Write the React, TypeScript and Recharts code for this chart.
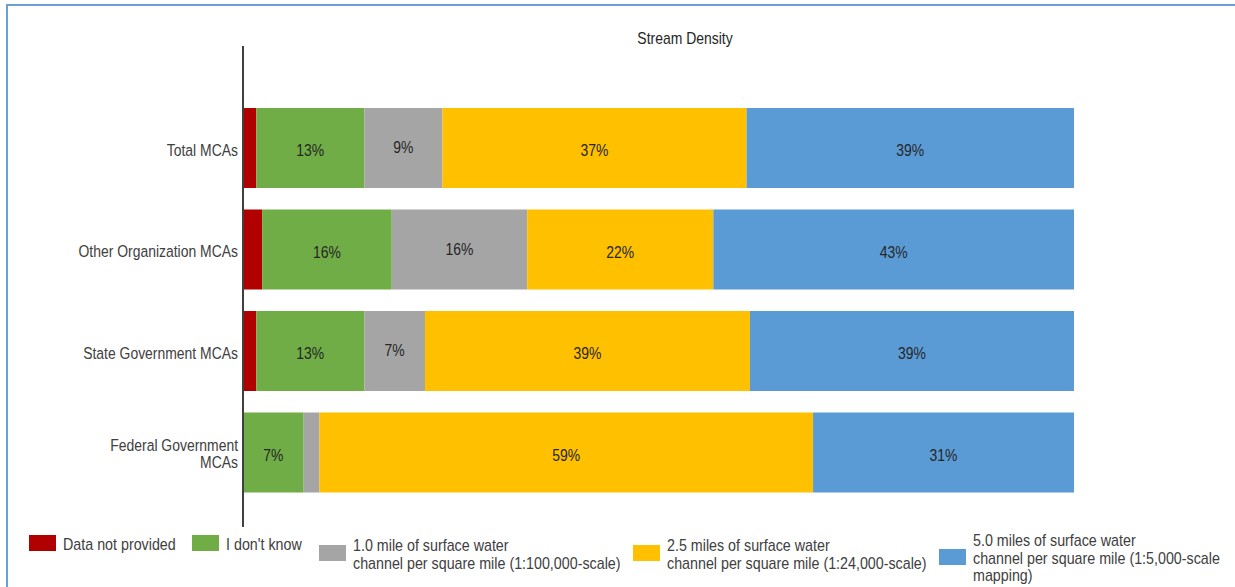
import React from "react"
import { Bar, BarChart, LabelList, XAxis, YAxis } from "recharts"

// values in percent
const categories = [
  "Total MCAs",
  "Other Organization MCAs",
  "State Government MCAs",
  "Federal Government MCAs",
]
const tickLines = [
  ["Total MCAs"],
  ["Other Organization MCAs"],
  ["State Government MCAs"],
  ["Federal Government", "MCAs"],
]
const notProvided = [1.6, 2.3, 1.6, 0]
const dontKnow = [13.0, 15.6, 13.0, 7.3]
const oneMile = [9.4, 16.3, 7.3, 1.9]
const twoHalfMiles = [36.6, 22.4, 39.1, 59.4]
const fiveMiles = [39.4, 43.4, 39.0, 31.4]

const seriesKeys = ["notProvided", "dontKnow", "oneMile", "twoHalfMiles", "fiveMiles"]
const seriesValues = [notProvided, dontKnow, oneMile, twoHalfMiles, fiveMiles]
const seriesNames = [
  ["Data not provided"],
  ["I don't know"],
  ["1.0 mile of surface water", "channel per square mile (1:100,000-scale)"],
  ["2.5 miles of surface water", "channel per square mile (1:24,000-scale)"],
  ["5.0 miles of surface water", "channel per square mile (1:5,000-scale", "mapping)"],
]
const seriesColors = ["#B00000", "#70AD47", "#A5A5A5", "#FFC000", "#5B9BD5"]

const data = categories.map((name, i) => {
  const row: Record<string, string | number> = { name }
  seriesKeys.forEach((key, s) => {
    row[key] = seriesValues[s][i]
  })
  return row
})

// no narrow font installed, so Arial-metric text is squeezed sideways
const FONT = "'Liberation Sans', Arial, sans-serif"
const SQUEEZE = 0.82
const TEXT = "#404040"

const CategoryTick = ({ x, y, payload, index }) => {
  const lines = tickLines[index] || [payload.value]
  const first = lines.length === 1 ? 8 : -1.5
  return (
    <text
      transform={`translate(${x},${y}) scale(${SQUEEZE},1)`}
      textAnchor="end"
      fill={TEXT}
      fontSize={17}
      fontFamily={FONT}
    >
      {lines.map((line, i) => (
        <tspan key={i} x={0} dy={i === 0 ? first : 17.5}>
          {line}
        </tspan>
      ))}
    </text>
  )
}

const makeLabel = (lift: number) => ({ x, y, width, height, value }) => {
  if (value < 5) return null
  return (
    <text
      transform={`translate(${x + width / 2},${y + height / 2 + 8 - lift}) scale(${SQUEEZE},1)`}
      textAnchor="middle"
      fill="#262626"
      fontSize={17}
      fontFamily={FONT}
    >
      {Math.round(value)}%
    </text>
  )
}

// legend boxes, placed like the original legend
const legendPos = [
  { left: 29, boxTop: 535, textTop: 536 },
  { left: 192, boxTop: 535, textTop: 536 },
  { left: 319, boxTop: 545, textTop: 537 },
  { left: 633, boxTop: 545, textTop: 537 },
  { left: 939, boxTop: 549, textTop: 532 },
]

export default function App() {
  return (
    <div
      style={{
        position: "absolute",
        left: 0,
        top: 0,
        width: 1235,
        height: 587,
        overflow: "hidden",
        background: "#fff",
        fontFamily: FONT,
      }}
    >
      <div
        style={{
          position: "absolute",
          left: 6,
          top: 4,
          width: 1300,
          height: 700,
          borderLeft: "2px solid #6A9FD8",
          borderTop: "2px solid #6A9FD8",
        }}
      />
      <div
        style={{
          position: "absolute",
          left: 585,
          width: 200,
          top: 30,
          textAlign: "center",
          fontSize: 17,
          lineHeight: "18px",
          color: "#262626",
          transform: `scaleX(${SQUEEZE})`,
          transformOrigin: "center top",
        }}
      >
        Stream Density
      </div>
      <BarChart
        width={1235}
        height={587}
        data={data}
        layout="vertical"
        margin={{ top: 46, right: 161, bottom: 60, left: 0 }}
        barSize={80}
        style={{ position: "absolute", left: 0, top: 0 }}
      >
        <XAxis type="number" domain={[0, 100]} hide />
        <YAxis
          type="category"
          dataKey="name"
          width={243}
          padding={{ top: 51, bottom: 24 }}
          axisLine={{ stroke: "#404040", strokeWidth: 2 }}
          tickLine={false}
          tickSize={0}
          tickMargin={5}
          interval={0}
          tick={CategoryTick}
        />
        {seriesKeys.map((key, s) => (
          <Bar
            key={key}
            dataKey={key}
            stackId="a"
            fill={seriesColors[s]}
            isAnimationActive={false}
          >
            <LabelList dataKey={key} content={makeLabel(key === "oneMile" ? 3 : 0)} />
          </Bar>
        ))}
      </BarChart>
      {seriesNames.map((lines, s) => (
        <div key={s}>
          <div
            style={{
              position: "absolute",
              left: legendPos[s].left,
              top: legendPos[s].boxTop,
              width: 27,
              height: 16,
              background: seriesColors[s],
            }}
          />
          <div
            style={{
              position: "absolute",
              left: legendPos[s].left + 34,
              top: legendPos[s].textTop,
              fontSize: 17,
              lineHeight: "17.5px",
              color: TEXT,
              whiteSpace: "nowrap",
              transform: `scaleX(0.84)`,
              transformOrigin: "left top",
            }}
          >
            {lines.map((line, i) => (
              <div key={i}>{line}</div>
            ))}
          </div>
        </div>
      ))}
    </div>
  )
}
